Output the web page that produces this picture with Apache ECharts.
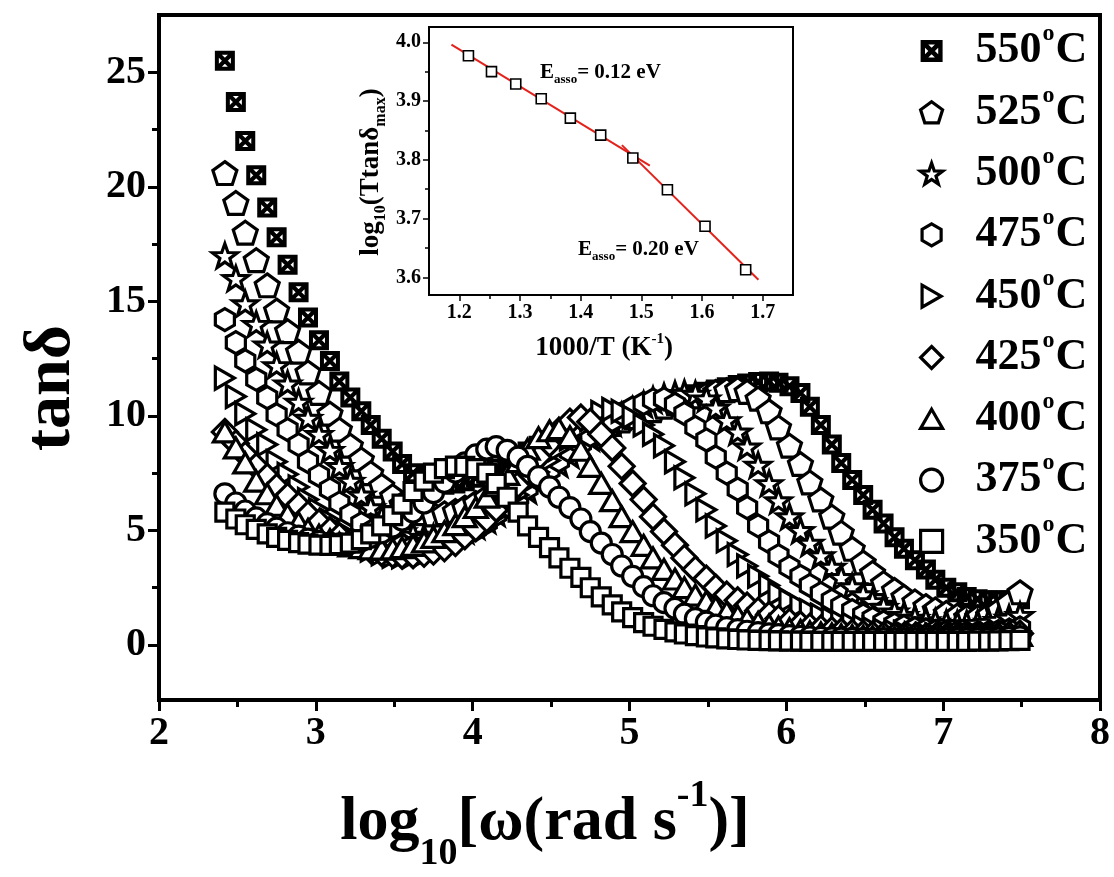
<!DOCTYPE html>
<html>
<head>
<meta charset="utf-8">
<title>tanδ vs log10 ω</title>
<script src="https://cdn.jsdelivr.net/npm/echarts@6/dist/echarts.min.js"></script>
<style>
html, body { margin: 0; padding: 0; background: #fff; }
#chart { width: 1114px; height: 877px; }
</style>
</head>
<body>
<div id="chart"></div>
<script>
// log10 of angular frequency (shared sweep for every temperature)
const logOmega = [
  2.42, 2.49, 2.55, 2.62, 2.69, 2.75, 2.82, 2.89, 2.95, 3.02,
  3.09, 3.15, 3.22, 3.29, 3.35, 3.42, 3.49, 3.55, 3.62, 3.69,
  3.75, 3.82, 3.89, 3.95, 4.02, 4.09, 4.15, 4.22, 4.29, 4.35,
  4.42, 4.49, 4.55, 4.62, 4.69, 4.75, 4.82, 4.89, 4.95, 5.02,
  5.09, 5.15, 5.22, 5.29, 5.35, 5.42, 5.49, 5.55, 5.62, 5.69,
  5.75, 5.82, 5.89, 5.95, 6.02, 6.09, 6.15, 6.22, 6.29, 6.35,
  6.42, 6.49, 6.55, 6.62, 6.69, 6.75, 6.82, 6.89, 6.95, 7.02,
  7.09, 7.15, 7.22, 7.29, 7.35, 7.42, 7.49
];

// tanδ at each temperature
const tan550 = [
  25.5, 23.7, 22.0, 20.5, 19.1, 17.8, 16.6, 15.4, 14.3, 13.3,
  12.4, 11.5, 10.8, 10.2, 9.6, 9.0, 8.45, 7.9, 7.5, 7.2,
  7.05, 7.0, 7.05, 7.15, 7.3, 7.5, 7.7, 7.95, 8.2, 8.45,
  8.7, 8.95, 9.15, 9.35, 9.55, 9.7, 9.85, 10.0, 10.15, 10.25,
  10.35, 10.45, 10.6, 10.7, 10.8, 10.95, 11.05, 11.15, 11.25, 11.35,
  11.42, 11.48, 11.5, 11.45, 11.3, 11.0, 10.4, 9.6, 8.75, 7.95,
  7.2, 6.55, 5.9, 5.3, 4.7, 4.2, 3.7, 3.3, 2.85, 2.5,
  2.3, 2.1, 2.0, 1.95, 1.95, 1.95, 2.0
];
const tan525 = [
  20.6, 19.3, 18.0, 16.8, 15.7, 14.6, 13.7, 12.8, 11.9, 11.0,
  10.1, 9.4, 8.7, 8.1, 7.5, 6.95, 6.5, 6.15, 5.9, 5.75,
  5.7, 5.75, 5.85, 6.0, 6.2, 6.45, 6.7, 7.0, 7.3, 7.6,
  7.9, 8.2, 8.5, 8.75, 9.0, 9.25, 9.45, 9.65, 9.8, 9.95,
  10.1, 10.25, 10.4, 10.55, 10.7, 10.85, 10.95, 11.05, 11.12, 11.17,
  11.05, 10.75, 10.2, 9.5, 8.7, 7.9, 7.1, 6.35, 5.6, 4.9,
  4.2, 3.6, 3.15, 2.7, 2.4, 2.1, 1.9, 1.7, 1.55, 1.4,
  1.28, 1.22, 1.22, 1.3, 1.5, 1.85, 2.3
];
const tan500 = [
  17.0, 16.0, 14.9, 14.0, 13.1, 12.2, 11.4, 10.6, 9.9, 9.2,
  8.5, 7.8, 7.15, 6.55, 6.0, 5.55, 5.2, 4.95, 4.8, 4.7,
  4.7, 4.75, 4.85, 5.0, 5.2, 5.45, 5.75, 6.05, 6.4, 6.75,
  7.1, 7.5, 7.9, 8.3, 8.7, 9.05, 9.4, 9.7, 10.0, 10.25,
  10.5, 10.7, 10.85, 10.95, 10.99, 10.95, 10.75, 10.35, 9.8, 9.3,
  8.65, 7.85, 7.05, 6.3, 5.6, 5.0, 4.45, 3.9, 3.4, 2.95,
  2.55, 2.2, 1.9, 1.65, 1.45, 1.3, 1.17, 1.07, 1.0, 0.95,
  0.93, 0.93, 0.95, 1.0, 1.08, 1.18, 1.3
];
const tan475 = [
  14.2, 13.2, 12.4, 11.6, 10.8, 10.05, 9.4, 8.75, 8.0, 7.4,
  6.8, 6.2, 5.7, 5.3, 4.95, 4.7, 4.5, 4.35, 4.3, 4.3,
  4.35, 4.45, 4.6, 4.8, 5.05, 5.35, 5.7, 6.05, 6.45, 6.85,
  7.25, 7.65, 8.05, 8.45, 8.8, 9.15, 9.5, 9.8, 10.1, 10.35,
  10.55, 10.7, 10.74, 10.5, 10.1, 9.5, 8.95, 8.2, 7.5, 6.8,
  6.0, 5.2, 4.5, 3.9, 3.4, 3.0, 2.6, 2.25, 1.95, 1.7,
  1.5, 1.3, 1.15, 1.0, 0.9, 0.8, 0.72, 0.66, 0.6, 0.56,
  0.54, 0.52, 0.52, 0.54, 0.58, 0.65, 0.75
];
const tan450 = [
  11.65, 10.85, 10.1, 9.4, 8.75, 8.0, 7.45, 6.9, 6.35, 5.9,
  5.45, 5.05, 4.7, 4.4, 4.15, 3.98, 3.88, 3.85, 3.87, 3.93,
  4.03, 4.18, 4.38, 4.62, 4.9, 5.25, 5.65, 6.1, 6.55, 7.05,
  7.55, 8.05, 8.55, 9.0, 9.45, 9.85, 10.15, 10.28, 10.2, 9.95,
  9.6, 9.2, 8.7, 8.0, 7.3, 6.6, 5.9, 5.2, 4.55, 3.95,
  3.45, 3.0, 2.6, 2.25, 1.95, 1.7, 1.5, 1.3, 1.15, 1.0,
  0.9, 0.8, 0.72, 0.65, 0.6, 0.55, 0.5, 0.47, 0.45, 0.43,
  0.42, 0.42, 0.43, 0.45, 0.5, 0.55, 0.62
];
const tan425 = [
  9.3, 8.8, 8.3, 7.8, 7.35, 6.9, 6.5, 6.1, 5.7, 5.35,
  5.0, 4.75, 4.5, 4.3, 4.15, 4.02, 3.95, 3.9, 3.92, 3.98,
  4.08, 4.22, 4.45, 4.75, 5.1, 5.5, 5.95, 6.45, 7.0, 7.6,
  8.2, 8.8, 9.35, 9.75, 9.93, 9.75, 9.2, 8.6, 7.8, 7.05,
  6.35, 5.6, 4.95, 4.35, 3.8, 3.3, 2.9, 2.5, 2.2, 1.95,
  1.72, 1.5, 1.32, 1.16, 1.02, 0.9, 0.8, 0.72, 0.65, 0.59,
  0.54, 0.5, 0.46, 0.43, 0.41, 0.39, 0.38, 0.37, 0.36, 0.36,
  0.36, 0.36, 0.37, 0.38, 0.4, 0.44, 0.5
];
const tan400 = [
  9.3, 8.6, 7.95, 7.15, 6.6, 6.1, 5.7, 5.35, 5.05, 4.8,
  4.6, 4.45, 4.33, 4.25, 4.2, 4.18, 4.2, 4.25, 4.35, 4.5,
  4.7, 4.95, 5.25, 5.6, 6.0, 6.45, 6.95, 7.45, 8.0, 8.55,
  9.05, 9.35, 9.44, 9.1, 8.5, 7.8, 7.05, 6.3, 5.6, 4.95,
  4.35, 3.8, 3.3, 2.88, 2.5, 2.18, 1.9, 1.65, 1.45, 1.27,
  1.12, 0.99, 0.88, 0.79, 0.71, 0.64, 0.58, 0.53, 0.49, 0.45,
  0.42, 0.39, 0.37, 0.35, 0.34, 0.33, 0.32, 0.31, 0.31, 0.31,
  0.31, 0.31, 0.32, 0.33, 0.35, 0.38, 0.42
];
const tan375 = [
  6.6, 6.2, 5.85, 5.55, 5.3, 5.1, 4.9, 4.75, 4.62, 4.52,
  4.45, 4.42, 4.45, 4.55, 4.7, 4.9, 5.15, 5.45, 5.8, 6.2,
  6.65, 7.1, 7.55, 7.95, 8.3, 8.55, 8.66, 8.5, 8.2, 7.8,
  7.35, 6.9, 6.45, 6.0, 5.5, 4.95, 4.45, 3.95, 3.45, 3.0,
  2.55, 2.15, 1.85, 1.6, 1.35, 1.15, 1.0, 0.87, 0.76, 0.67,
  0.6, 0.54, 0.49, 0.45, 0.41, 0.38, 0.35, 0.33, 0.31, 0.3,
  0.29, 0.28, 0.27, 0.27, 0.26, 0.26, 0.26, 0.26, 0.26, 0.26,
  0.27, 0.27, 0.28, 0.29, 0.3, 0.32, 0.35
];
const tan350 = [
  5.8, 5.5, 5.25, 5.05, 4.85, 4.7, 4.57, 4.47, 4.4, 4.36,
  4.35, 4.38, 4.45, 4.6, 4.85, 5.2, 5.65, 6.15, 6.7, 7.15,
  7.5, 7.7, 7.81, 7.8, 7.7, 7.5, 7.05, 6.45, 5.8, 5.2,
  4.7, 4.25, 3.8, 3.35, 2.95, 2.5, 2.1, 1.75, 1.45, 1.2,
  0.98, 0.82, 0.68, 0.57, 0.48, 0.41, 0.35, 0.31, 0.27, 0.24,
  0.22, 0.2, 0.19, 0.18, 0.17, 0.17, 0.16, 0.16, 0.16, 0.16,
  0.16, 0.16, 0.16, 0.16, 0.16, 0.16, 0.16, 0.16, 0.16, 0.16,
  0.16, 0.16, 0.17, 0.17, 0.18, 0.19, 0.2
];

const temperatures = ['550', '525', '500', '475', '450', '425', '400', '375', '350'];

// tick positions of the main axes
const mainXTicks = [2, 3, 4, 5, 6, 7, 8];
const mainXMinor = [2.5, 3.5, 4.5, 5.5, 6.5, 7.5];
const mainYTicks = [0, 5, 10, 15, 20, 25];
const mainYMinor = [2.5, 7.5, 12.5, 17.5, 22.5];

// inset: Arrhenius-type plot of the loss peak
const invT = [1.215, 1.253, 1.293, 1.335, 1.383, 1.433, 1.486, 1.543, 1.605, 1.672];
const logTtanMax = [3.977, 3.950, 3.929, 3.904, 3.871, 3.842, 3.803, 3.749, 3.687, 3.613];
const fitHighTx = [1.187, 1.514];
const fitHighTy = [3.996, 3.790];
const fitLowTx = [1.468, 1.693];
const fitLowTy = [3.825, 3.596];
const insetXTicks = [1.2, 1.3, 1.4, 1.5, 1.6, 1.7];
const insetXMinor = [1.25, 1.35, 1.45, 1.55, 1.65];
const insetYTicks = [3.6, 3.7, 3.8, 3.9, 4.0];
const insetYMinor = [3.65, 3.75, 3.85, 3.95];

const FF = '"Liberation Serif", "Times New Roman", "DejaVu Serif", serif';

// marker shapes
const SYM = {
  boxX: 'path://M0,0L20,0L20,20L0,20ZM4,4L4,16L16,16L16,4ZM4,4L7,4L16,13L16,16L13,16L4,7ZM16,4L16,7L7,16L4,16L4,13L13,4Z',
  pentagon: 'path://M10,0.5L19.5,7.4L15.9,18.6L4.1,18.6L0.5,7.4Z',
  star: 'path://M10,0L12.35,6.76L19.51,6.91L13.8,11.24L15.88,18.09L10,14L4.12,18.09L6.2,11.24L0.49,6.91L7.65,6.76Z',
  hexagon: 'path://M10,0L18.66,5L18.66,15L10,20L1.34,15L1.34,5Z',
  triRight: 'path://M0,0L17.32,10L0,20Z',
  diamond: 'diamond',
  triUp: 'path://M10,0L20,17.32L0,17.32Z',
  circle: 'circle',
  square: 'rect'
};

const mainSets = [
  { t: temperatures[0], v: tan550, sym: SYM.boxX, size: 20, solid: true },
  { t: temperatures[1], v: tan525, sym: SYM.pentagon, size: 24 },
  { t: temperatures[2], v: tan500, sym: SYM.star, size: 25 },
  { t: temperatures[3], v: tan475, sym: SYM.hexagon, size: 22 },
  { t: temperatures[4], v: tan450, sym: SYM.triRight, size: 22 },
  { t: temperatures[5], v: tan425, sym: SYM.diamond, size: 25 },
  { t: temperatures[6], v: tan400, sym: SYM.triUp, size: 23 },
  { t: temperatures[7], v: tan375, sym: SYM.circle, size: 20 },
  { t: temperatures[8], v: tan350, sym: SYM.square, size: 18 }
];

const solidStyle = { color: '#000', borderWidth: 0, opacity: 1 };
const openStyle = { color: '#fff', borderColor: '#000', borderWidth: 3.2, opacity: 1 };

const seriesList = mainSets.map(s => ({
  name: s.t + '°C',
  type: 'scatter',
  xAxisIndex: 0,
  yAxisIndex: 0,
  symbol: s.sym,
  symbolSize: s.size,
  symbolKeepAspect: true,
  itemStyle: s.solid ? solidStyle : openStyle,
  emphasis: { disabled: true },
  silent: true,
  data: logOmega.map((x, i) => [x, s.v[i]])
}));

seriesList.push({
  type: 'scatter',
  xAxisIndex: 2,
  yAxisIndex: 2,
  symbol: 'rect',
  symbolSize: 10,
  itemStyle: { color: '#fff', borderColor: '#000', borderWidth: 1.6, opacity: 1 },
  emphasis: { disabled: true },
  silent: true,
  z: 5,
  data: invT.map((x, i) => [x, logTtanMax[i]])
});
[[fitHighTx, fitHighTy], [fitLowTx, fitLowTy]].forEach(([xs, ys]) => {
  seriesList.push({
    type: 'line',
    xAxisIndex: 2,
    yAxisIndex: 2,
    showSymbol: false,
    lineStyle: { color: '#e3221c', width: 2 },
    emphasis: { disabled: true },
    silent: true,
    z: 4,
    data: xs.map((x, i) => [x, ys[i]])
  });
});

function majorAxis(grid, pos, min, max, ticks, len, lineW, fontSize, margin, fmt) {
  return {
    type: 'value', gridIndex: grid, position: pos, min: min, max: max,
    axisLine: { show: true, onZero: false, lineStyle: { color: '#000', width: lineW } },
    axisTick: { show: true, inside: false, length: len, customValues: ticks,
      lineStyle: { color: '#000', width: lineW > 3 ? 3 : 1.5 } },
    axisLabel: { show: true, customValues: ticks, margin: margin, formatter: fmt,
      color: '#000', fontFamily: FF, fontWeight: 'bold', fontSize: fontSize },
    splitLine: { show: false }
  };
}
function minorAxis(grid, pos, min, max, ticks, len, w) {
  return {
    type: 'value', gridIndex: grid, position: pos, offset: 0, min: min, max: max,
    axisLine: { show: false, onZero: false },
    axisTick: { show: true, inside: false, length: len, customValues: ticks,
      lineStyle: { color: '#000', width: w } },
    axisLabel: { show: false },
    splitLine: { show: false }
  };
}

const intFmt = v => String(Math.round(v));
const oneDec = v => v.toFixed(1);

const legendRich = {
  g: { width: 28 },
  n: { fontSize: 44, fontFamily: FF, fontWeight: 'bold', color: '#000', lineHeight: 50 },
  s: { fontSize: 24, fontFamily: FF, fontWeight: 'bold', color: '#000', padding: [0, 1, 34, 1] }
};

const option = {
  animation: false,
  backgroundColor: '#fff',
  grid: [
    { left: 159, right: 14, top: 15, bottom: 177, show: true, borderColor: '#000', borderWidth: 4, backgroundColor: 'transparent' },
    { left: 429, top: 27, width: 364, height: 268, show: true, borderColor: '#000', borderWidth: 2, backgroundColor: 'transparent' }
  ],
  xAxis: [
    majorAxis(0, 'bottom', 2, 8, mainXTicks, 11, 4, 40, 14, intFmt),
    minorAxis(0, 'bottom', 2, 8, mainXMinor, 7, 3),
    majorAxis(1, 'bottom', 1.15, 1.75, insetXTicks, 6, 2, 20, 8, oneDec),
    minorAxis(1, 'bottom', 1.15, 1.75, insetXMinor, 4, 1.5)
  ],
  yAxis: [
    majorAxis(0, 'left', -2.4, 27.5, mainYTicks, 11, 4, 40, 13, intFmt),
    minorAxis(0, 'left', -2.4, 27.5, mainYMinor, 7, 3),
    majorAxis(1, 'left', 3.57, 4.026, insetYTicks, 6, 2, 20, 8, oneDec),
    minorAxis(1, 'left', 3.57, 4.026, insetYMinor, 4, 1.5)
  ],
  legend: {
    orient: 'vertical',
    left: 919,
    top: 22,
    padding: 0,
    itemWidth: 22,
    itemHeight: 22,
    itemGap: 10.3,
    selectedMode: false,
    data: mainSets.map(s => ({
      name: s.t + '°C',
      itemStyle: s.solid ? solidStyle : openStyle
    })),
    formatter: name => '{g| }{n|' + name.replace('°C', '') + '}{s|o}{n|C}',
    textStyle: { rich: legendRich }
  },
  graphic: [
    {
      type: 'text', x: 52, y: 388, rotation: Math.PI / 2,
      style: { text: 'tanδ', fill: '#000', font: 'bold 66px ' + FF, align: 'center', verticalAlign: 'middle' }
    },
    {
      type: 'text', x: 545, y: 823,
      style: {
        text: '{a|log}{b|10}{a|[ω(rad s}{c|-1}{a|)]}',
        align: 'center', verticalAlign: 'middle',
        rich: {
          a: { fontSize: 62, fontFamily: FF, fontWeight: 'bold', fill: '#000' },
          b: { fontSize: 38, fontFamily: FF, fontWeight: 'bold', fill: '#000', padding: [62, 0, 0, 0] },
          c: { fontSize: 38, fontFamily: FF, fontWeight: 'bold', fill: '#000', padding: [0, 0, 54, 0] }
        }
      }
    },
    {
      type: 'text', x: 371, y: 172, rotation: Math.PI / 2,
      style: {
        text: '{a|log}{b|10}{a|(Ttanδ}{b|max}{a|)}',
        align: 'center', verticalAlign: 'middle',
        rich: {
          a: { fontSize: 27, fontFamily: FF, fontWeight: 'bold', fill: '#000' },
          b: { fontSize: 16, fontFamily: FF, fontWeight: 'bold', fill: '#000', padding: [20, 0, 0, 0] }
        }
      }
    },
    {
      type: 'text', x: 604, y: 348,
      style: {
        text: '{a|1000/T (K}{c|-1}{a|)}',
        align: 'center', verticalAlign: 'middle',
        rich: {
          a: { fontSize: 27, fontFamily: FF, fontWeight: 'bold', fill: '#000' },
          c: { fontSize: 15, fontFamily: FF, fontWeight: 'bold', fill: '#000', padding: [0, 0, 18, 0] }
        }
      }
    },
    {
      type: 'text', x: 540, y: 73,
      style: {
        text: '{a|E}{b|asso}{a|= 0.12 eV}',
        align: 'left', verticalAlign: 'middle',
        rich: {
          a: { fontSize: 21, fontFamily: FF, fontWeight: 'bold', fill: '#000' },
          b: { fontSize: 13, fontFamily: FF, fontWeight: 'bold', fill: '#000', padding: [14, 0, 0, 0] }
        }
      }
    },
    {
      type: 'text', x: 578, y: 250,
      style: {
        text: '{a|E}{b|asso}{a|= 0.20 eV}',
        align: 'left', verticalAlign: 'middle',
        rich: {
          a: { fontSize: 21, fontFamily: FF, fontWeight: 'bold', fill: '#000' },
          b: { fontSize: 13, fontFamily: FF, fontWeight: 'bold', fill: '#000', padding: [14, 0, 0, 0] }
        }
      }
    }
  ],
  series: seriesList
};

const chart = echarts.init(document.getElementById('chart'), null, { renderer: 'canvas' });
chart.setOption(option);
</script>
</body>
</html>
